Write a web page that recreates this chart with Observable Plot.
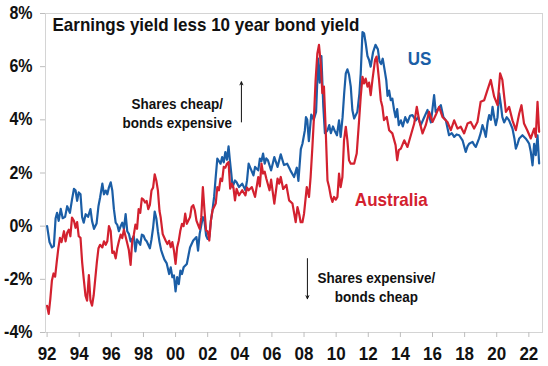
<!DOCTYPE html>
<html>
<head>
<meta charset="utf-8">
<script src="https://cdn.jsdelivr.net/npm/d3@7"></script>
<script src="https://cdn.jsdelivr.net/npm/@observablehq/plot@0.6"></script>
<style>
  html, body { margin: 0; padding: 0; background: #fff; }
</style>
</head>
<body>
<div id="chart"></div>
<script>
const titleText = "Earnings yield less 10 year bond yield";
const seriesNames = ["US", "Australia"];
const yearTicks = [1992, 1994, 1996, 1998, 2000, 2002, 2004, 2006, 2008, 2010, 2012, 2014, 2016, 2018, 2020, 2022];
const yTicks = [-4, -2, 0, 2, 4, 6, 8];
const upNote = "Shares cheap/\nbonds expensive";
const downNote = "Shares expensive/\nbonds cheap";

const usYears = [1992.0,1992.15,1992.3,1992.42,1992.53,1992.62,1992.72,1992.85,1992.97,1993.12,1993.25,1993.42,1993.55,1993.67,1993.77,1993.87,1993.97,1994.08,1994.18,1994.28,1994.4,1994.55,1994.7,1994.8,1994.92,1995.08,1995.2,1995.3,1995.44,1995.54,1995.65,1995.75,1995.85,1995.96,1996.06,1996.16,1996.27,1996.37,1996.47,1996.58,1996.68,1996.78,1996.89,1996.99,1997.1,1997.2,1997.4,1997.5,1997.6,1997.7,1997.8,1997.9,1998.0,1998.1,1998.2,1998.4,1998.5,1998.6,1998.7,1998.8,1998.9,1999.0,1999.1,1999.2,1999.3,1999.45,1999.6,1999.7,1999.8,1999.9,2000.0,2000.1,2000.2,2000.3,2000.4,2000.5,2000.7,2000.9,2001.1,2001.3,2001.4,2001.5,2001.7,2001.8,2001.9,2002.0,2002.1,2002.2,2002.3,2002.4,2002.5,2002.6,2002.7,2002.8,2002.9,2003.0,2003.1,2003.2,2003.3,2003.37,2003.47,2003.55,2003.7,2003.8,2003.95,2004.15,2004.35,2004.45,2004.55,2004.65,2004.85,2004.95,2005.15,2005.25,2005.35,2005.45,2005.55,2005.65,2005.75,2005.95,2006.05,2006.15,2006.35,2006.55,2006.75,2006.95,2007.15,2007.38,2007.55,2007.65,2007.8,2007.9,2008.05,2008.12,2008.2,2008.3,2008.45,2008.6,2008.75,2008.88,2008.98,2009.08,2009.2,2009.3,2009.46,2009.57,2009.67,2009.8,2009.9,2010.05,2010.18,2010.28,2010.4,2010.5,2010.6,2010.7,2010.8,2010.91,2011.01,2011.12,2011.32,2011.45,2011.53,2011.64,2011.74,2011.84,2011.95,2012.05,2012.15,2012.3,2012.45,2012.6,2012.7,2012.8,2012.9,2013.02,2013.12,2013.2,2013.3,2013.4,2013.5,2013.6,2013.7,2013.8,2013.9,2014.03,2014.15,2014.3,2014.44,2014.6,2014.75,2014.96,2015.1,2015.27,2015.45,2015.69,2015.9,2016.1,2016.2,2016.35,2016.52,2016.68,2016.83,2017.03,2017.2,2017.35,2017.5,2017.66,2017.87,2018.07,2018.18,2018.28,2018.49,2018.6,2018.7,2018.9,2019.0,2019.11,2019.22,2019.32,2019.43,2019.53,2019.64,2019.74,2019.84,2019.94,2020.05,2020.15,2020.25,2020.35,2020.46,2020.62,2020.77,2020.98,2021.1,2021.19,2021.3,2021.4,2021.6,2021.8,2021.92,2022.02,2022.12,2022.23,2022.33,2022.43,2022.54,2022.64];
const usValues = [0.0,-0.6,-0.8,-0.75,0.3,0.5,0.2,0.65,0.3,0.35,0.75,0.5,1.0,1.4,1.35,0.95,1.27,1.2,0.35,0.13,0.45,0.35,0.64,0.19,-0.1,0.1,0.76,1.08,1.6,1.2,1.34,1.2,1.46,1.65,1.34,0.64,0.13,0.05,-0.19,0.0,0.13,-0.1,0.45,-0.19,-0.3,-0.57,-0.38,-0.95,-0.5,-0.6,-0.7,-0.32,-0.35,-0.5,-0.57,-0.83,-0.5,-0.06,0.55,0.3,-0.2,-0.6,-0.9,-1.08,-1.25,-1.4,-1.8,-1.55,-1.92,-1.85,-2.45,-1.92,-2.18,-1.67,-1.8,-1.55,-1.42,-0.8,-0.54,-0.41,-0.92,-0.29,0.34,0.2,-0.35,-0.48,-0.4,0.21,0.6,1.1,1.85,2.54,2.45,2.35,2.6,2.4,2.79,2.5,3.0,2.55,1.98,1.47,1.72,1.65,1.47,1.6,1.35,1.72,2.35,2.2,1.91,2.23,2.1,2.54,2.45,2.73,2.35,2.55,2.48,2.1,2.35,2.6,2.23,2.7,2.3,2.35,2.1,1.85,2.2,1.7,2.9,3.1,3.6,4.1,4.0,3.2,4.2,4.0,4.3,6.3,5.4,6.4,4.5,3.5,3.6,3.8,3.5,3.75,3.6,3.42,3.98,3.36,4.1,5.0,5.75,5.9,5.7,5.25,4.37,4.05,4.3,5.0,5.75,7.3,7.25,6.88,6.4,6.25,6.0,6.55,6.82,6.65,6.2,6.1,6.3,5.87,5.5,4.9,5.1,4.74,4.8,4.4,4.1,4.4,3.8,3.98,3.75,4.1,3.9,4.15,4.18,3.98,4.1,3.8,4.05,4.37,3.9,4.93,4.3,4.4,4.55,4.1,3.98,3.42,3.5,3.36,3.45,3.42,3.23,2.79,3.0,3.1,3.17,3.05,2.98,3.3,3.5,3.8,3.6,3.36,3.9,4.18,4.0,4.49,4.1,3.8,4.1,5.0,4.6,4.1,3.9,4.1,3.98,3.67,3.3,2.92,3.1,3.3,3.42,3.3,3.2,3.1,2.8,2.29,3.1,2.67,3.42,2.36];

const auYears = [1992.0,1992.1,1992.2,1992.3,1992.4,1992.5,1992.6,1992.7,1992.8,1992.9,1993.05,1993.15,1993.25,1993.35,1993.45,1993.55,1993.67,1993.77,1993.87,1993.97,1994.08,1994.18,1994.28,1994.39,1994.49,1994.6,1994.7,1994.8,1994.9,1995.0,1995.1,1995.2,1995.3,1995.44,1995.54,1995.65,1995.75,1995.85,1995.96,1996.06,1996.16,1996.27,1996.37,1996.47,1996.58,1996.68,1996.78,1996.89,1996.99,1997.09,1997.2,1997.3,1997.4,1997.5,1997.6,1997.7,1997.8,1997.9,1998.0,1998.1,1998.2,1998.3,1998.4,1998.5,1998.6,1998.7,1998.8,1998.9,1999.0,1999.07,1999.2,1999.28,1999.4,1999.49,1999.6,1999.7,1999.8,1999.9,2000.0,2000.1,2000.2,2000.3,2000.4,2000.5,2000.6,2000.7,2000.9,2001.0,2001.1,2001.2,2001.3,2001.4,2001.5,2001.6,2001.7,2001.8,2001.9,2002.0,2002.1,2002.2,2002.3,2002.5,2002.6,2002.7,2002.8,2002.9,2003.0,2003.1,2003.2,2003.3,2003.4,2003.5,2003.6,2003.7,2003.8,2003.95,2004.15,2004.35,2004.45,2004.55,2004.75,2004.95,2005.15,2005.25,2005.35,2005.45,2005.55,2005.65,2005.85,2005.95,2006.05,2006.15,2006.35,2006.45,2006.55,2006.7,2006.9,2007.07,2007.28,2007.48,2007.59,2007.7,2007.79,2007.9,2008.0,2008.17,2008.31,2008.41,2008.52,2008.62,2008.72,2008.83,2008.93,2009.04,2009.14,2009.24,2009.35,2009.46,2009.56,2009.67,2009.77,2009.87,2009.98,2010.08,2010.18,2010.28,2010.39,2010.49,2010.6,2010.7,2010.8,2010.91,2011.12,2011.28,2011.43,2011.53,2011.64,2011.74,2011.84,2011.95,2012.05,2012.15,2012.26,2012.42,2012.52,2012.67,2012.78,2012.88,2012.98,2013.15,2013.3,2013.5,2013.7,2013.8,2013.9,2014.03,2014.24,2014.44,2014.65,2014.86,2015.02,2015.17,2015.38,2015.58,2015.79,2016.0,2016.2,2016.41,2016.62,2016.93,2017.14,2017.35,2017.56,2017.76,2017.97,2018.18,2018.38,2018.59,2018.8,2019.0,2019.22,2019.42,2019.63,2019.84,2020.05,2020.21,2020.35,2020.57,2020.77,2020.98,2021.19,2021.4,2021.54,2021.7,2021.9,2022.12,2022.33,2022.43,2022.54,2022.64];
const auValues = [-3.0,-3.3,-2.74,-2.04,-1.78,-1.9,-1.34,-0.83,-0.44,-0.6,-0.19,-0.57,-0.25,-0.13,-0.38,0.32,0.2,-0.06,0.15,-0.38,-0.44,-1.34,-1.97,-2.61,-2.8,-1.84,-2.8,-2.99,-2.6,-1.97,-1.34,-0.83,-0.7,-0.8,-0.57,-0.7,-0.57,0.0,-0.19,-1.01,-0.95,-1.21,-0.83,-0.57,-0.32,-0.45,-0.13,-0.4,-0.64,-0.9,-1.46,-0.57,-0.32,0.06,-0.1,0.64,0.5,1.05,1.0,0.89,0.95,0.64,0.8,1.34,1.45,1.95,1.72,1.34,0.57,0.34,-0.3,-0.41,-0.57,-0.67,-0.55,-0.79,-0.6,-0.92,-1.42,-0.79,-0.54,-0.16,0.09,0.0,0.47,0.09,0.34,0.72,0.79,0.6,0.21,0.05,-0.1,0.34,1.47,0.6,-0.16,-0.2,-0.54,0.21,0.6,0.85,1.47,1.35,1.79,1.7,2.23,2.2,2.35,2.41,1.41,1.6,1.47,0.97,1.4,1.16,1.35,1.16,1.45,1.35,1.47,1.1,1.85,1.5,2.35,1.98,2.05,1.79,1.35,1.75,1.29,0.85,1.79,1.6,1.85,1.4,1.55,0.97,0.85,0.15,0.72,0.45,0.15,0.15,0.47,1.47,1.1,1.85,2.98,4.11,5.5,6.5,6.82,6.13,5.0,5.25,3.61,1.72,1.47,1.1,0.91,1.1,1.0,1.1,1.98,1.47,1.85,3.23,3.74,3.23,2.48,2.35,2.35,2.73,3.99,4.87,5.62,5.37,5.55,5.25,5.4,4.93,5.5,6.25,6.38,5.5,4.74,4.49,3.99,4.11,3.61,3.49,3.05,2.48,2.86,2.92,3.23,2.98,3.42,3.86,4.49,3.98,3.49,3.8,4.3,3.92,4.18,4.49,4.11,3.92,3.61,3.98,3.67,3.74,3.49,3.86,3.92,3.67,3.92,4.68,4.74,5.12,5.5,4.87,4.55,5.75,5.5,4.3,4.49,3.98,3.61,4.24,4.55,3.86,3.61,3.3,3.67,3.36,4.68,3.55];

const blue = "#1b5ea6";
const red = "#d3212f";

const usData = usYears.map((year, i) => ({year, value: usValues[i], series: seriesNames[0]}));
const auData = auYears.map((year, i) => ({year, value: auValues[i], series: seriesNames[1]}));

const font = "'Liberation Sans', Arial, Helvetica, sans-serif";

const chart = Plot.plot({
  width: 548,
  height: 366,
  marginLeft: 45,
  marginRight: 6,
  marginTop: 13,
  marginBottom: 34,
  style: {fontFamily: font, background: "#fff", color: "#111", overflow: "visible"},
  x: {domain: [1991.9, 2022.85]},
  y: {domain: [-4, 8]},
  marks: [
    Plot.frame({stroke: "#d4d4d4"}),
    Plot.axisX({ticks: yearTicks, tickFormat: d => String(d % 100).padStart(2, "0"), tickSize: 5, tickPadding: 9, stroke: "#bdbdbd", fill: "#111", fontSize: 17, fontWeight: "bold", label: null}),
    Plot.axisY({ticks: yTicks, tickFormat: d => d + "%", tickSize: 5, tickPadding: 8, stroke: "#bdbdbd", fill: "#111", fontSize: 16, fontWeight: "bold", label: null}),
    Plot.line(usData, {x: "year", y: "value", stroke: blue, strokeWidth: 2.2}),
    Plot.line(auData, {x: "year", y: "value", stroke: red, strokeWidth: 2.2}),
    Plot.text([titleText], {frameAnchor: "top-left", dx: 7, dy: 4, textAnchor: "start", lineAnchor: "top", fontSize: 17, fontWeight: "bold", fill: "#111"}),
    Plot.text([{t: seriesNames[0], x: 2015.2, y: 6.3}], {x: "x", y: "y", text: "t", fill: blue, fontSize: 17, fontWeight: "bold"}),
    Plot.text([{t: seriesNames[1], x: 2013.43, y: 1.0}], {x: "x", y: "y", text: "t", fill: red, fontSize: 17, fontWeight: "bold"}),
    Plot.text([{t: upNote, x: 2000.11, y: 4.9}], {x: "x", y: "y", text: "t", lineAnchor: "top", fontSize: 13.5, fontWeight: "bold", lineHeight: 1.28, fill: "#111"}),
    Plot.text([{t: downNote, x: 2012.5, y: -1.63}], {x: "x", y: "y", text: "t", lineAnchor: "top", fontSize: 13.5, fontWeight: "bold", lineHeight: 1.28, fill: "#111"}),
    Plot.arrow([{x: 2004.1, y1: 3.92, y2: 5.43}], {x: "x", y1: "y1", y2: "y2", stroke: "#111", strokeWidth: 1, headLength: 5, headAngle: 50}),
    Plot.arrow([{x: 2008.21, y1: -1.22, y2: -2.73}], {x: "x", y1: "y1", y2: "y2", stroke: "#111", strokeWidth: 1, headLength: 5, headAngle: 50})
  ]
});

// The reference's lettering is slightly taller than its width implies: stretch text vertically a little.
chart.querySelectorAll("text").forEach(t => {
  const tr = t.getAttribute("transform");
  if (tr && tr.startsWith("translate")) t.setAttribute("transform", tr + " scale(1,1.1)");
});

document.getElementById("chart").appendChild(chart);
</script>
</body>
</html>
